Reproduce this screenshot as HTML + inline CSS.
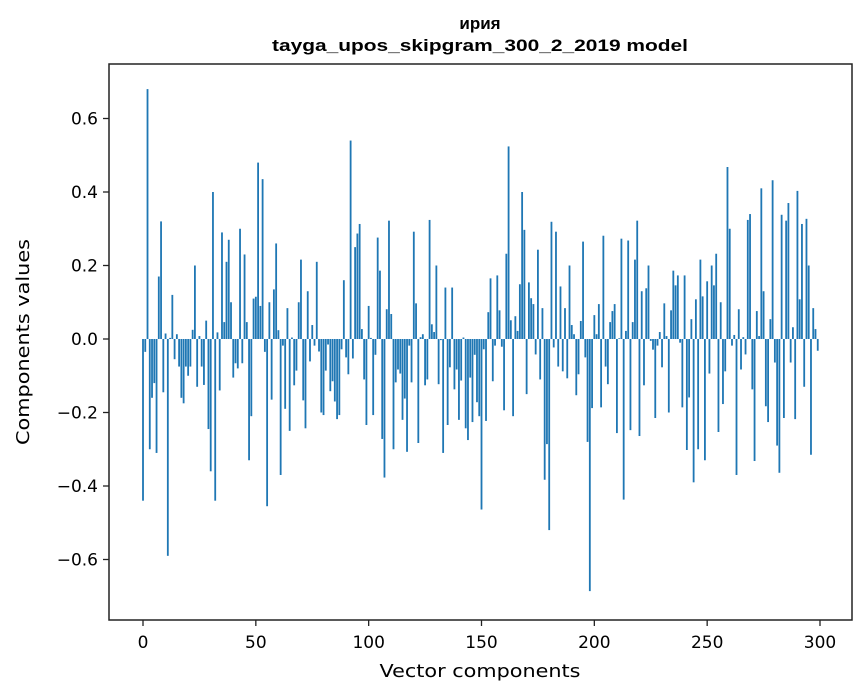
<!DOCTYPE html>
<html><head><meta charset="utf-8"><style>
body{margin:0;background:#fff;}
svg{display:block;font-family:"DejaVu Sans","Liberation Sans",sans-serif;}
</style></head><body>
<svg id="chart" width="867" height="696" viewBox="0 0 867 696" xmlns="http://www.w3.org/2000/svg">
<rect x="0" y="0" width="867" height="696" fill="#fff"/>
<text x="480" y="29" text-anchor="middle" font-size="17" font-weight="bold" font-family="Liberation Sans, sans-serif" fill="#000">ирия</text>
<text x="480" y="51" text-anchor="middle" font-size="17" font-weight="bold" font-family="Liberation Sans, sans-serif" fill="#000" textLength="416" lengthAdjust="spacingAndGlyphs">tayga_upos_skipgram_300_2_2019 model</text>
<g id="bars"></g>
<g id="axes"></g>
<rect x="109" y="64" width="743" height="556" fill="none" stroke="#222" stroke-width="1.5"/>
<text x="480" y="677" text-anchor="middle" font-size="18" fill="#000" textLength="201" lengthAdjust="spacingAndGlyphs">Vector components</text>
<text transform="translate(29,342) rotate(-90)" text-anchor="middle" font-size="18" fill="#000" textLength="206" lengthAdjust="spacingAndGlyphs">Components values</text>
</svg>
<script>
const values = [
-0.44,-0.035,0.68,-0.30,-0.16,-0.12,-0.31,0.17,0.32,-0.145,
0.015,-0.59,0.003,0.12,-0.055,0.013,-0.075,-0.16,-0.175,-0.075,
-0.10,-0.075,0.025,0.20,-0.13,0.008,-0.075,-0.125,0.05,-0.245,
-0.36,0.40,-0.44,0.018,-0.14,0.29,0.046,0.21,0.27,0.10,
-0.105,-0.066,-0.08,0.30,-0.066,0.23,0.046,-0.33,-0.21,0.11,
0.115,0.48,0.09,0.435,-0.035,-0.455,0.10,-0.165,0.135,0.26,
0.024,-0.37,-0.018,-0.19,0.084,-0.25,0.004,-0.126,-0.086,0.10,
0.216,-0.167,-0.243,0.13,-0.061,0.038,-0.018,0.21,-0.034,-0.20,
-0.207,-0.086,-0.015,-0.142,-0.115,-0.17,-0.218,-0.207,-0.028,0.16,
-0.05,-0.096,0.54,-0.053,0.25,0.287,0.313,0.027,-0.11,-0.234,
0.09,0.003,-0.207,-0.043,0.276,0.186,-0.272,-0.377,0.081,0.322,
0.068,-0.30,-0.118,-0.083,-0.094,-0.22,-0.162,-0.307,-0.018,-0.118,
0.292,0.097,-0.283,0.005,0.013,-0.126,-0.11,0.324,0.04,0.019,
0.20,-0.123,-0.003,-0.31,0.14,-0.234,-0.077,0.14,-0.137,-0.083,
-0.22,-0.113,0.004,-0.243,-0.275,-0.105,-0.226,-0.043,-0.172,-0.21,
-0.464,-0.028,-0.223,0.073,0.165,-0.115,-0.018,0.173,0.078,-0.021,
-0.194,0.232,0.524,0.051,-0.21,0.062,0.022,0.149,0.40,0.297,
-0.15,0.154,0.111,0.095,-0.042,0.243,-0.11,0.084,-0.383,-0.286,
-0.52,0.319,-0.023,0.292,-0.075,0.143,-0.088,0.084,-0.107,0.20,
0.038,0.013,-0.153,-0.096,0.049,0.265,-0.05,-0.28,-0.686,-0.188,
0.065,0.013,0.095,-0.186,0.281,-0.075,-0.123,0.046,0.076,0.095,
-0.256,0.002,0.273,-0.437,0.022,0.268,-0.248,0.046,0.216,0.322,
-0.264,0.13,-0.126,0.138,0.20,-0.005,-0.029,-0.215,-0.018,0.019,
-0.077,0.097,0.008,-0.20,0.078,0.186,0.146,0.173,-0.01,-0.186,
0.173,-0.302,-0.159,0.054,-0.39,0.108,-0.30,0.216,0.116,-0.33,
0.157,-0.094,0.20,0.146,0.232,-0.253,0.10,-0.177,-0.088,0.468,
0.30,-0.018,0.011,-0.37,0.081,-0.083,0.005,-0.042,0.324,0.34,
-0.137,-0.332,0.076,0.008,0.41,0.13,-0.183,-0.226,0.054,0.432,
-0.064,-0.29,-0.364,0.338,-0.215,0.322,0.37,-0.064,0.032,-0.218,
0.403,0.108,0.313,-0.13,0.327,0.20,-0.315,0.084,0.027,-0.032
];
const xTicks = [0,50,100,150,200,250,300];
const yTicks = [-0.6,-0.4,-0.2,0.0,0.2,0.4,0.6];
const yTickLabels = ["\u22120.6","\u22120.4","\u22120.2","0.0","0.2","0.4","0.6"];

const NS = "http://www.w3.org/2000/svg";
function xScale(i){ return 143 + i * (677 / 300); }
function yScale(v){ return 339 - v * 367.5; }
const barW = 0.8 * (677 / 300);
const barsG = document.getElementById('bars');
values.forEach((v, i) => {
  const r = document.createElementNS(NS, 'rect');
  const y0 = yScale(0), y1 = yScale(v);
  r.setAttribute('x', (xScale(i) - barW / 2).toFixed(2));
  r.setAttribute('y', Math.min(y0, y1).toFixed(2));
  r.setAttribute('width', barW.toFixed(2));
  r.setAttribute('height', Math.abs(y1 - y0).toFixed(2));
  r.setAttribute('fill', '#1f77b4');
  
  
  barsG.appendChild(r);
});
const axesG = document.getElementById('axes');
xTicks.forEach(t => {
  const x = xScale(t);
  const l = document.createElementNS(NS, 'line');
  l.setAttribute('x1', x); l.setAttribute('x2', x);
  l.setAttribute('y1', 620); l.setAttribute('y2', 626);
  l.setAttribute('stroke', '#222');
  l.setAttribute('stroke-width', '1.3');
  
  
  axesG.appendChild(l);
  const tx = document.createElementNS(NS, 'text');
  tx.setAttribute('x', x); tx.setAttribute('y', 648);
  tx.setAttribute('text-anchor', 'middle');
  tx.setAttribute('font-size', '17');
  tx.textContent = String(t);
  
  
  axesG.appendChild(tx);
});
yTicks.forEach((t, k) => {
  const y = yScale(t);
  const l = document.createElementNS(NS, 'line');
  l.setAttribute('x1', 103); l.setAttribute('x2', 109);
  l.setAttribute('y1', y); l.setAttribute('y2', y);
  l.setAttribute('stroke', '#222');
  l.setAttribute('stroke-width', '1.3');
  
  
  axesG.appendChild(l);
  const tx = document.createElementNS(NS, 'text');
  tx.setAttribute('x', 98); tx.setAttribute('y', y + 6);
  tx.setAttribute('text-anchor', 'end');
  tx.setAttribute('font-size', '17');
  tx.textContent = yTickLabels[k];
  
  
  axesG.appendChild(tx);
});
</script>
</body></html>
